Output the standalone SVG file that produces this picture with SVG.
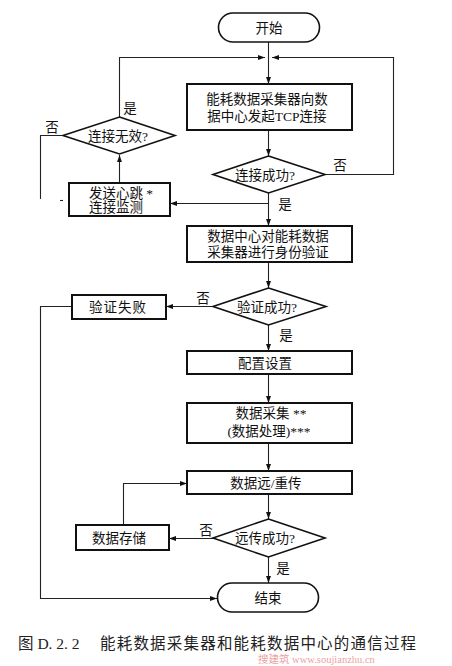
<svg xmlns="http://www.w3.org/2000/svg" width="452" height="666" viewBox="0 0 452 666">
<style>
.n{fill:#fff;stroke:#111;stroke-width:2}
.d{fill:#fff;stroke:#111;stroke-width:1.6}
.c{fill:none;stroke:#222;stroke-width:1.1}
.t{font-family:"Liberation Serif","Noto Sans CJK SC",serif;font-size:13.5px;fill:#111;text-anchor:middle;dominant-baseline:central}
.l{font-family:"Liberation Serif","Noto Sans CJK SC",serif;font-size:13.5px;fill:#111;dominant-baseline:central}
.cap{font-family:"Liberation Serif","Noto Sans CJK SC",serif;font-size:15.5px;fill:#222}
</style>
<defs>
<marker id="a" viewBox="0 0 10 10" refX="10" refY="5" markerWidth="7" markerHeight="7" markerUnits="userSpaceOnUse" orient="auto">
<path d="M0,1.5 L10,5 L0,8.5 Z" fill="#111"/>
</marker>
</defs>
<rect width="452" height="666" fill="#fff"/>

<g id="connectors">
<path class="c" d="M268.5,42 V84" marker-end="url(#a)"/>
<path class="c" d="M119.5,117 V57.5 H265" marker-end="url(#a)"/>
<path class="c" d="M325,174.5 H393.5 V57.5 H272" marker-end="url(#a)"/>
<path class="c" d="M268.5,130 V156" marker-end="url(#a)"/>
<path class="c" d="M268.5,193 V226" marker-end="url(#a)"/>
<path class="c" d="M268.5,203.5 H170" marker-end="url(#a)"/>
<path class="c" d="M119.5,183 V155" marker-end="url(#a)"/>
<path class="c" d="M63,135.5 H40.5 V199"/>
<path class="c" d="M60,200.5 H63"/>
<path class="c" d="M268.5,262 V288" marker-end="url(#a)"/>
<path class="c" d="M213,306.5 H166" marker-end="url(#a)"/>
<path class="c" d="M72,306.5 H40.5 V598.5 H217" marker-end="url(#a)"/>
<path class="c" d="M268.5,325 V351" marker-end="url(#a)"/>
<path class="c" d="M268.5,374 V403" marker-end="url(#a)"/>
<path class="c" d="M268.5,443 V471" marker-end="url(#a)"/>
<path class="c" d="M268.5,494 V519" marker-end="url(#a)"/>
<path class="c" d="M213,538.5 H169" marker-end="url(#a)"/>
<path class="c" d="M123.5,525 V483.5 H187" marker-end="url(#a)"/>
<path class="c" d="M268.5,557 V583" marker-end="url(#a)"/>
</g>

<g id="labels">
<text class="t" x="130" y="108">是</text>
<text class="t" x="52" y="127">否</text>
<text class="t" x="340" y="165">否</text>
<text class="t" x="285" y="204">是</text>
<text class="t" x="203" y="298">否</text>
<text class="t" x="286" y="335">是</text>
<text class="t" x="206" y="530">否</text>
<text class="t" x="283" y="568">是</text>
</g>

<g id="start">
<rect class="d" x="218.5" y="13" width="101" height="29" rx="14.5"/>
<text class="t" x="269" y="28">开始</text>
</g>
<g id="connect">
<rect class="n" x="187" y="84" width="165" height="46"/>
<text class="t" x="267" y="99">能耗数据采集器向数</text>
<text class="t" x="267" y="116">据中心发起TCP连接</text>
</g>
<g id="connOk">
<polygon class="d" points="268.5,156 325,174.5 268.5,193 213,174.5"/>
<text class="t" x="265" y="175">连接成功?</text>
</g>
<g id="connInvalid">
<polygon class="d" points="119.5,117 175,135.5 119.5,154 63,135.5"/>
<text class="t" x="118" y="136">连接无效?</text>
</g>
<g id="heartbeat">
<rect class="n" x="69" y="183" width="101" height="33"/>
<text class="l" x="89" y="193">发送心跳 *</text>
<text class="l" x="89" y="207">连接监测</text>
</g>
<g id="auth">
<rect class="n" x="187" y="226" width="165" height="36"/>
<text class="t" x="268" y="236">数据中心对能耗数据</text>
<text class="t" x="268" y="252">采集器进行身份验证</text>
</g>
<g id="authOk">
<polygon class="d" points="268.5,288 326,306.5 268.5,325 213,306.5"/>
<text class="t" x="267" y="307">验证成功?</text>
</g>
<g id="authFail">
<rect class="n" x="72" y="295" width="94" height="24"/>
<text class="t" x="118" y="307" style="letter-spacing:1px">验证失败</text>
</g>
<g id="config">
<rect class="n" x="187" y="351" width="165" height="23"/>
<text class="t" x="265" y="363">配置设置</text>
</g>
<g id="collect">
<rect class="n" x="187" y="403" width="165" height="40"/>
<text class="t" x="271" y="413">数据采集 **</text>
<text class="t" x="269" y="431">(数据处理)***</text>
</g>
<g id="transmit">
<rect class="n" x="187" y="471" width="165" height="23"/>
<text class="t" x="266" y="483">数据远/重传</text>
</g>
<g id="transOk">
<polygon class="d" points="268.5,519 325,538 268.5,557 213,538"/>
<text class="t" x="265" y="538">远传成功?</text>
</g>
<g id="store">
<rect class="n" x="76" y="525" width="93" height="25"/>
<text class="t" x="119" y="538">数据存储</text>
</g>
<g id="end">
<rect class="d" x="217.5" y="583" width="101" height="29" rx="14.5"/>
<text class="t" x="268" y="598">结束</text>
</g>

<g id="caption">
<text class="cap" x="18" y="649">图 D. 2. 2</text>
<text class="cap" x="100" y="649" style="letter-spacing:1.2px">能耗数据采集器和能耗数据中心的通信过程</text>
<text x="258" y="663" style="font-family:'Liberation Serif','Noto Sans CJK SC',serif;font-size:10.5px;fill:#e05050;opacity:0.55">搜建筑 www.soujianzhu.cn</text>
</g>
</svg>
